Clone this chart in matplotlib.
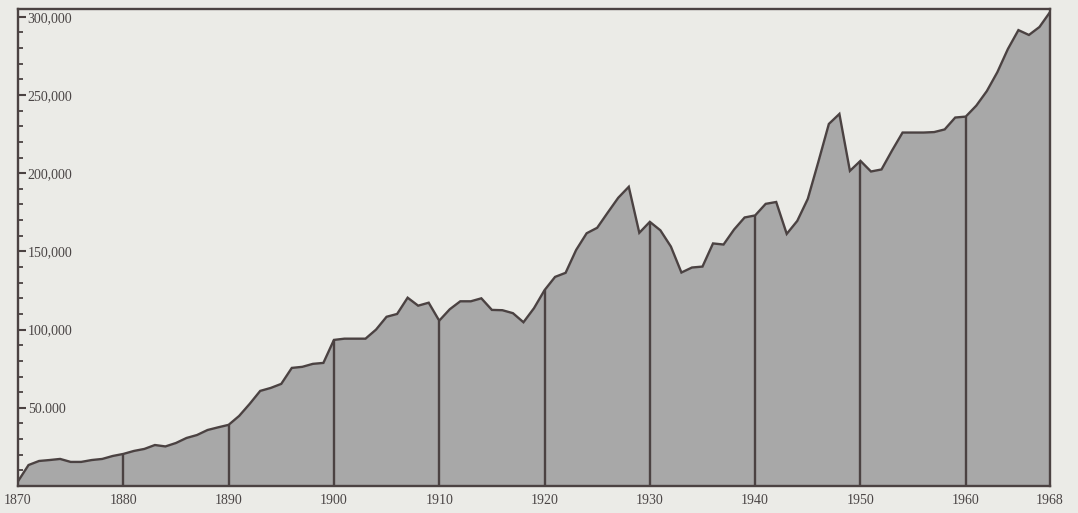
import matplotlib.pyplot as plt

# annual values, 1870-1968
years = list(range(1870, 1969))
values = [
    3000, 13400, 16000, 16600, 17300, 15400, 15400, 16600, 17300, 19200,          # 1870s
    20500, 22400, 23700, 26200, 25300, 27500, 30700, 32600, 35800, 37500,         # 1880s
    39100, 44800, 52500, 60800, 62700, 65300, 75500, 76200, 78100, 78700,         # 1890s
    93400, 94200, 94200, 94200, 100000, 108200, 110000, 120400, 115300, 117200,   # 1900s
    105700, 113000, 118100, 118100, 120000, 112600, 112400, 110500, 104700, 113700,  # 1910s
    125200, 133700, 136300, 150900, 161600, 165100, 174800, 184300, 191300, 161900,  # 1920s
    168900, 163500, 153100, 136500, 139700, 140300, 155100, 154400, 164000, 171700,  # 1930s
    173000, 180400, 181600, 161200, 169500, 183600, 207200, 231500, 237900, 201500,  # 1940s
    207900, 201100, 202400, 214500, 226000, 226000, 226000, 226300, 228000, 235600,  # 1950s
    236200, 243200, 252500, 264600, 279400, 291500, 288400, 293500, 303000,          # 1960s
]

x_ticks = [1870, 1880, 1890, 1900, 1910, 1920, 1930, 1940, 1950, 1960, 1968]
decade_lines = [1880, 1890, 1900, 1910, 1920, 1930, 1940, 1950, 1960]
y_ticks = [50000, 100000, 150000, 200000, 250000, 300000]
y_labels = ["50.000", "100,000", "150,000", "200,000", "250,000", "300,000"]

bg = '#ebebe7'
fill = '#a8a8a8'
ink = '#4b4242'
text_color = '#4a4545'

plt.rcParams['font.family'] = ['Liberation Serif', 'DejaVu Serif']

fig = plt.figure(figsize=(10.78, 5.13), dpi=100, facecolor=bg)
ax = fig.add_axes([18 / 1078, 1 - 486 / 513, (1050 - 18) / 1078, (486 - 9) / 513])
ax.set_facecolor(bg)

ax.fill_between(years, values, 0, color=fill, lw=0)
ax.plot(years, values, color=ink, lw=1.7, solid_joinstyle='miter')

# vertical rules at each decade, up to the curve
decade_vals = [values[years.index(y)] for y in decade_lines]
ax.vlines(decade_lines, 0, decade_vals, color=ink, lw=1.7)

ax.set_xlim(1870, 1968)
ax.set_ylim(0, 305000)

for spine in ax.spines.values():
    spine.set_color(ink)
    spine.set_linewidth(1.7)

ax.set_xticks(x_ticks)
ax.set_xticklabels([str(y) for y in x_ticks])
ax.tick_params(axis='x', length=0, pad=6, labelsize=10, colors=text_color)

ax.set_yticks(y_ticks)
ax.set_yticklabels(y_labels)
ax.set_yticks(range(0, 300001, 10000), minor=True)
ax.tick_params(axis='y', which='major', direction='in', length=6, width=1.5,
               color=ink, pad=-7, labelsize=10, labelcolor=text_color)
ax.tick_params(axis='y', which='minor', direction='in', length=3.5, width=1.3, color=ink)
for lab in ax.get_yticklabels():
    lab.set_horizontalalignment('left')

fig.savefig('out.png', dpi=100, facecolor=fig.get_facecolor())
